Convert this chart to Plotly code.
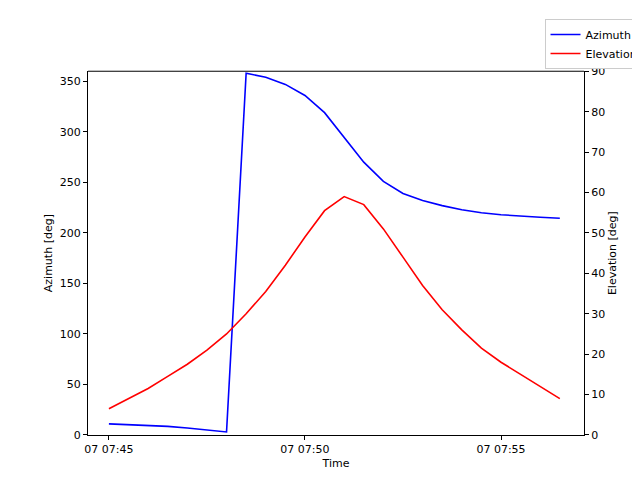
import pandas as pd
import plotly.graph_objects as go

# ── Data (30 s samples from 07:45:00 to 07:56:30)
times = pd.date_range("2020-01-07 07:45:00", periods=24, freq="30s")
azimuth = [11, 10.3, 9.5, 8.5, 7, 5.2, 3,
           358, 354, 347, 336, 319, 295, 270, 251,
           239, 232, 227, 223, 220, 218, 216.5, 215.5, 214.5]
elevation = [6.5, 9, 11.5, 14.5, 17.5, 21, 25, 30,
             35.5, 42, 49, 55.5, 59, 57, 51, 44,
             37, 31, 26, 21.5, 18, 15, 12, 9]

fig = go.Figure()
fig.add_trace(go.Scatter(x=times, y=azimuth, mode="lines", name="Azimuth",
                         line=dict(color="blue", width=1.6)))
fig.add_trace(go.Scatter(x=times, y=elevation, mode="lines", name="Elevation",
                         line=dict(color="red", width=1.6), yaxis="y2"))

axis_style = dict(showline=True, linecolor="black", ticks="outside",
                  tickcolor="black", ticklen=4, showgrid=False, zeroline=False,
                  tickfont=dict(size=11, color="black"))
dom_top = 369 / 422

fig.update_layout(
    width=640, height=480,
    margin=dict(l=80, r=64, t=5, b=53),
    paper_bgcolor="white", plot_bgcolor="white",
    font=dict(family="DejaVu Sans", size=11, color="black"),
    xaxis=dict(axis_style,
               range=["2020-01-07 07:44:28", "2020-01-07 07:57:07"],
               tickvals=["2020-01-07 07:45", "2020-01-07 07:50", "2020-01-07 07:55"],
               ticktext=["07 07:45", "07 07:50", "07 07:55"],
               title=dict(text="Time", standoff=4, font=dict(size=11))),
    yaxis=dict(axis_style, range=[0, 360], dtick=50, domain=[0, dom_top],
               title=dict(text="Azimuth [deg]", standoff=4, font=dict(size=11))),
    yaxis2=dict(axis_style, overlaying="y", side="right", range=[0, 90], dtick=10,
                title=dict(text="Elevation [deg]", standoff=4, font=dict(size=11))),
    shapes=[dict(type="line", xref="paper", yref="paper", x0=0, x1=1,
                 y0=dom_top, y1=dom_top, line=dict(color="black", width=1))],
    legend=dict(x=1.12, y=1.0, xanchor="right", yanchor="top",
                bgcolor="white", bordercolor="#cccccc",
                borderwidth=1, font=dict(size=11)),
)

fig.write_html("out.html")
